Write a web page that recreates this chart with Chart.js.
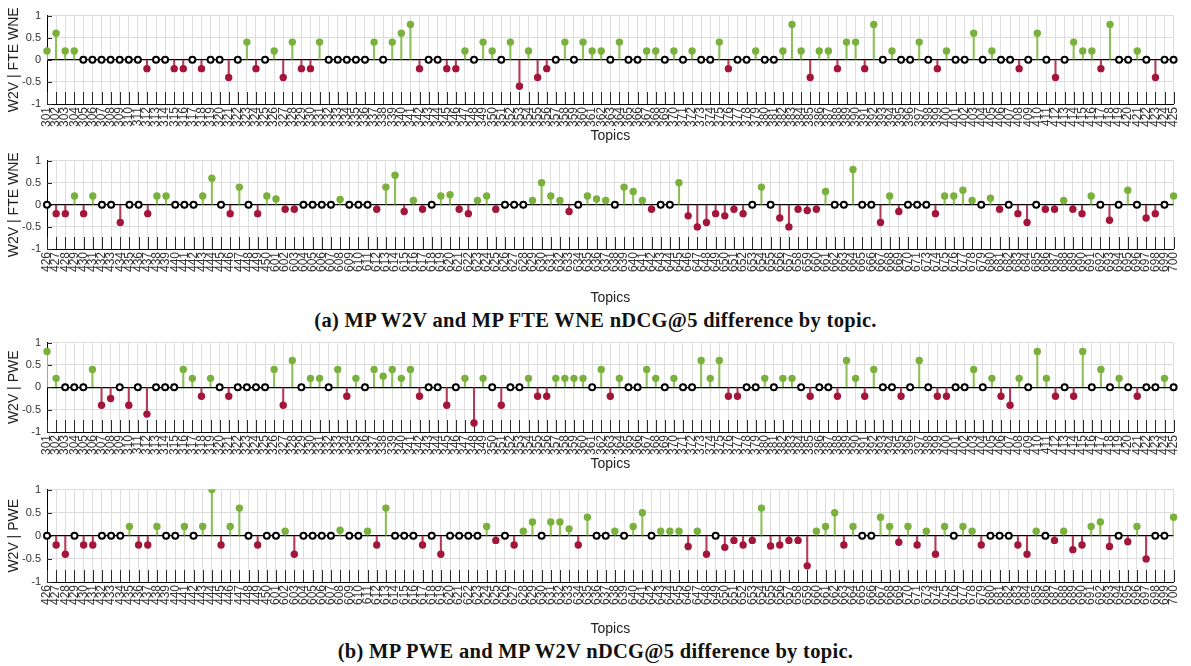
<!DOCTYPE html>
<html>
<head>
<meta charset="utf-8">
<script src="https://cdn.jsdelivr.net/npm/chart.js@4.4.1/dist/chart.umd.min.js"></script>
<style>
  html, body { margin: 0; padding: 0; background: #fff; }
  body { width: 1191px; height: 666px; position: relative; overflow: hidden; }
  .panel { position: absolute; left: 0; width: 1191px; }
  .caption { position: absolute; left: 0; width: 1191px; text-align: center;
             font-family: 'Liberation Serif', serif; font-weight: bold; font-size: 20.5px;
             letter-spacing: 0.3px; color: #111; }
</style>
</head>
<body>
<div class="panel" id="p1" style="top:3px;height:144px"><canvas id="c1"></canvas></div>
<div class="panel" id="p2" style="top:148px;height:161px"><canvas id="c2"></canvas></div>
<div class="caption" style="top:309px">(a) MP W2V and MP FTE WNE nDCG@5 difference by topic.</div>
<div class="panel" id="p3" style="top:330px;height:145px"><canvas id="c3"></canvas></div>
<div class="panel" id="p4" style="top:477px;height:163px"><canvas id="c4"></canvas></div>
<div class="caption" style="top:640px">(b) MP PWE and MP W2V nDCG@5 difference by topic.</div>
<script>
// Topic ids
const topicsA = [301,302,303,304,305,306,307,308,309,310,311,312,313,314,315,316,317,318,319,320,
  321,322,323,324,325,326,327,328,329,330,331,332,333,334,335,336,337,338,339,340,
  341,342,343,344,345,346,347,348,349,350,351,352,353,354,355,356,357,358,359,360,
  361,362,363,364,365,366,367,368,369,370,371,372,373,374,375,376,377,378,379,380,
  381,382,383,384,385,386,387,388,389,390,391,392,393,394,395,396,397,398,399,400,
  401,402,403,404,405,406,407,408,409,410,411,412,413,414,415,416,417,418,419,420,
  421,422,423,424,425];
const topicsB = [426,427,428,429,430,431,432,433,434,435,436,437,438,439,440,441,442,443,444,445,
  446,447,448,449,450,601,602,603,604,605,606,607,608,609,610,611,612,613,614,615,
  616,617,618,619,620,621,622,623,624,625,626,627,628,629,630,631,632,633,634,635,
  636,637,638,639,640,641,642,643,644,645,646,647,648,649,650,651,652,653,654,655,
  656,657,658,659,660,661,662,663,664,665,666,667,668,669,670,671,673,674,675,676,
  677,678,679,680,681,682,683,684,685,686,687,688,689,690,691,692,693,694,695,696,
  697,698,699,700];

// (a) W2V - FTE WNE
const fteA = [0.2,0.6,0.2,0.2,0,0,0,0,0,0, 0,-0.2,0,0,-0.2,-0.2,0,-0.2,0,0,
  -0.4,0,0.4,-0.2,0,0.2,-0.4,0.4,-0.2,-0.2, 0.4,0,0,0,0,0,0.4,0,0.4,0.6,
  0.8,-0.2,0,0,-0.2,-0.2,0.2,0,0.4,0.2, 0,0.4,-0.6,0.2,-0.4,-0.2,0,0.4,0,0.4,
  0.2,0.2,0,0.4,0,0,0.2,0.2,0,0.2, 0,0.2,0,0,0.4,-0.2,0,0,0.2,0,
  0,0.2,0.8,0.2,-0.4,0.2,0.2,-0.2,0.4,0.4, -0.2,0.8,0,0.2,0,0,0.4,0,-0.2,0.2,
  0,0,0.6,0,0.2,0,0,-0.2,0,0.6, 0,-0.4,0,0.4,0.2,0.2,-0.2,0.8,0,0,
  0.2,0,-0.4,0,0];
const fteB = [0,-0.2,-0.2,0.2,-0.2,0.2,0,0,-0.4,0, 0,-0.2,0.2,0.2,0,0,0,0.2,0.6,0,
  -0.2,0.4,0,-0.2,0.2,0.13,-0.1,-0.1,0,0, 0,0,0.12,0,0,0,-0.1,0.4,0.67,-0.15,
  0.1,-0.1,0,0.2,0.23,-0.1,-0.2,0.1,0.2,-0.1, 0,0,0,0.1,0.5,0.2,0.1,-0.15,0,0.2,
  0.13,0.1,0,0.4,0.3,0.1,-0.1,0,0,0.5, -0.25,-0.5,-0.4,-0.2,-0.25,-0.1,-0.2,0,0.4,0,
  -0.3,-0.5,-0.1,-0.13,-0.1,0.3,0,0,0.8,0, 0,-0.4,0.2,-0.15,0,0,0,-0.2,0.2,0.2,
  0.33,0.1,0,0.15,-0.1,0,-0.2,-0.4,0,-0.1, -0.1,0.1,-0.1,-0.2,0.2,0,-0.35,0,0.33,0,
  -0.3,-0.2,0,0.2];

// (b) W2V - PWE
const pweA = [0.8,0.2,0,0,0,0.4,-0.4,-0.25,0,-0.4, 0,-0.6,0,0,0,0.4,0.2,-0.2,0.2,0,
  -0.2,0,0,0,0,0.4,-0.4,0.6,0,0.2, 0.2,0,0.4,-0.2,0.2,0,0.4,0.25,0.4,0.2,
  0.4,-0.2,0,0,-0.4,0,0.2,-0.8,0.2,0, -0.4,0,0,0.2,-0.2,-0.2,0.2,0.2,0.2,0.2,
  0,0.4,-0.2,0.2,0,0,0.4,0.2,0,0.2, 0,0,0.6,0.2,0.6,-0.2,-0.2,0,0,0.2,
  0,0.2,0.2,0,-0.2,0,0,-0.2,0.6,0.2, -0.2,0.4,0,0,-0.2,0,0.6,0,-0.2,-0.2,
  0,0,0.4,0,0.2,-0.2,-0.4,0.2,0,0.8, 0.2,-0.2,0,-0.2,0.8,0,0.4,0,0.2,0,
  -0.2,0,0,0.2,0];
const pweB = [0,-0.2,-0.4,0,-0.2,-0.2,0,0,0,0.2, -0.2,-0.2,0.2,0,0,0.2,0,0.2,1.0,-0.2,
  0.2,0.6,0,-0.2,0,0,0.1,-0.4,0,0, 0,0,0.12,0,0,0.1,-0.2,0.6,0,0,
  0,-0.2,0,-0.4,0,0,0,0,0.2,-0.1, 0,-0.2,0.1,0.3,0,0.3,0.3,0.15,-0.2,0.4,
  0,0,0.1,0,0.2,0.5,0,0.1,0.1,0.1, -0.23,0.1,-0.4,0,-0.25,-0.1,-0.2,-0.1,0.6,-0.22,
  -0.2,-0.1,-0.1,-0.65,0.1,0.2,0.5,-0.2,0.2,0, 0,0.4,0.2,-0.14,0.2,-0.2,0.1,-0.4,0.2,0,
  0.2,0.1,-0.2,0,0,0,-0.2,-0.4,0.1,0, -0.1,0.1,-0.3,-0.2,0.2,0.3,-0.23,0,-0.13,0.2,
  -0.5,0,0,0.4];

const yTicks = [1, 0.5, 0, -0.5, -1];

const green = '#79b13c', greenStem = '#8cbf55';
const red = '#a3163a', redStem = '#b23a57';
const font = "'Liberation Sans', Arial, sans-serif";

// MATLAB-like inward tick marks on both axes
const inwardTicks = {
  id: 'inwardTicks',
  beforeDatasetsDraw(chart) {
    const { ctx, chartArea, scales: { x, y } } = chart;
    ctx.save();
    ctx.strokeStyle = '#2b2b2b';
    ctx.lineWidth = 1;
    ctx.beginPath();
    x.ticks.forEach((t, i) => {
      const px = Math.round(x.getPixelForTick(i)) + 0.5;
      ctx.moveTo(px, chartArea.bottom);
      ctx.lineTo(px, chartArea.bottom - 12);
    });
    y.ticks.forEach((t, i) => {
      const py = Math.round(y.getPixelForTick(i)) + 0.5;
      ctx.moveTo(chartArea.left, py);
      ctx.lineTo(chartArea.left + 5, py);
    });
    ctx.stroke();
    ctx.restore();
  }
};

function stemChart(canvasId, labels, values, yTitle, xHeight) {
  const sign = v => v > 0 ? 1 : (v < 0 ? -1 : 0);
  new Chart(document.getElementById(canvasId).getContext('2d'), {
    data: {
      labels: labels,
      datasets: [
        {
          type: 'line',
          data: values,
          showLine: false,
          order: 0,
          pointRadius: c => sign(c.raw) === 0 ? 3 : 3.7,
          pointBorderWidth: c => sign(c.raw) === 0 ? 2 : 0,
          pointBackgroundColor: c => sign(c.raw) > 0 ? green : (sign(c.raw) < 0 ? red : '#fff'),
          pointBorderColor: c => sign(c.raw) === 0 ? '#000' : 'rgba(0,0,0,0)'
        },
        {
          type: 'bar',
          data: values,
          order: 1,
          barThickness: 1.4,
          backgroundColor: c => c.raw > 0 ? greenStem : redStem
        }
      ]
    },
    options: {
      responsive: true, maintainAspectRatio: false,
      animation: false,
      layout: { padding: { top: 10, right: 5, left: 0, bottom: 0 } },
      plugins: { legend: { display: false }, tooltip: { enabled: false } },
      scales: {
        x: {
          type: 'category',
          offset: false,
          grid: { offset: false, color: '#dedede', drawTicks: false },
          border: { color: '#000', width: 1 },
          ticks: { autoSkip: false, maxRotation: 90, minRotation: 90, padding: 3,
                   font: { family: font, size: 12 }, color: '#333' },
          title: { display: true, text: 'Topics', color: '#222',
                   font: { family: font, size: 14 }, padding: { top: 0, bottom: 2 } },
          afterFit: s => { s.height = xHeight; }
        },
        y: {
          min: -1, max: 1,
          afterBuildTicks: s => { s.ticks = yTicks.map(v => ({ value: v })); },
          grid: {
            drawTicks: false,
            color: c => c.tick && c.tick.value === 0 ? '#000' : '#dcdcdc',
            lineWidth: c => c.tick && c.tick.value === 0 ? 1.2 : 1
          },
          border: { color: '#000', width: 1 },
          ticks: { padding: 6, font: { family: font, size: 11 }, color: '#333',
                   callback: v => String(v) },
          title: { display: true, text: yTitle, color: '#222',
                   font: { family: font, size: 14 }, padding: { top: 6, bottom: 0 } },
          afterFit: s => { s.width = 47; }
        }
      }
    },
    plugins: [inwardTicks]
  });
}

stemChart('c1', topicsA, fteA, 'W2V | FTE WNE', 43);
stemChart('c2', topicsB, fteB, 'W2V | FTE WNE', 60);
stemChart('c3', topicsA, pweA, 'W2V | PWE', 43);
stemChart('c4', topicsB, pweB, 'W2V | PWE', 58);
</script>
</body>
</html>
